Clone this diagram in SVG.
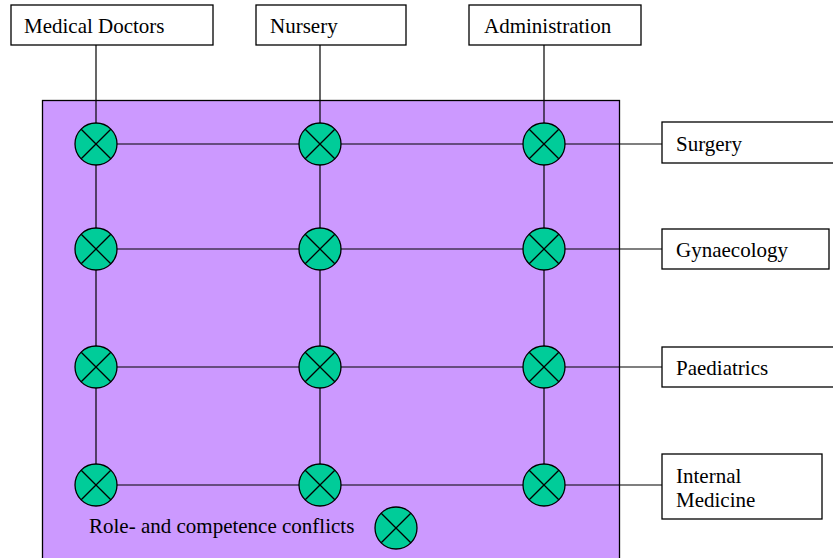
<svg xmlns="http://www.w3.org/2000/svg" width="833" height="558" viewBox="0 0 833 558">
<defs>
<style>
.box{fill:#ffffff;stroke:#000000;stroke-width:1.3}
.lbl{font-family:'Liberation Serif','Times New Roman',serif;font-size:21px;fill:#000000}
.ln{stroke:#000000;stroke-width:1.2;fill:none}
.cf{fill:#00CC99;stroke:#000000;stroke-width:1.3}
.cx{stroke:#000000;stroke-width:1.3}
</style>
<g id="conflict">
<circle class="cf" cx="0" cy="0" r="21"/>
<line class="cx" x1="-14.8" y1="-14.8" x2="14.8" y2="14.8"/>
<line class="cx" x1="-14.8" y1="14.8" x2="14.8" y2="-14.8"/>
</g>
</defs>
<rect id="matrix" x="42.5" y="100.5" width="577" height="470" fill="#CC99FF" stroke="#000000" stroke-width="1.3"/>
<g id="connectors">
<line class="ln" x1="96" y1="45" x2="96" y2="485"/>
<line class="ln" x1="320" y1="45" x2="320" y2="485"/>
<line class="ln" x1="544" y1="45" x2="544" y2="485"/>
<line class="ln" x1="96" y1="144" x2="662" y2="144"/>
<line class="ln" x1="96" y1="249" x2="662" y2="249"/>
<line class="ln" x1="96" y1="367" x2="662" y2="367"/>
<line class="ln" x1="96" y1="485" x2="662" y2="485"/>
</g>
<g id="medical-doctors"><rect class="box" x="11" y="5" width="202" height="40"/><text class="lbl" x="24" y="33">Medical Doctors</text></g>
<g id="nursery"><rect class="box" x="256" y="5" width="150" height="40"/><text class="lbl" x="270" y="33">Nursery</text></g>
<g id="administration"><rect class="box" x="469" y="5" width="172" height="40"/><text class="lbl" x="484" y="33">Administration</text></g>
<g id="surgery"><rect class="box" x="662" y="122" width="180" height="41"/><text class="lbl" x="676" y="151">Surgery</text></g>
<g id="gynaecology"><rect class="box" x="662" y="229" width="167" height="40"/><text class="lbl" x="676" y="257">Gynaecology</text></g>
<g id="paediatrics"><rect class="box" x="662" y="347" width="180" height="40"/><text class="lbl" x="676" y="375">Paediatrics</text></g>
<g id="internal-medicine"><rect class="box" x="662" y="454" width="160" height="65"/><text class="lbl" x="676" y="483">Internal</text><text class="lbl" x="676" y="507">Medicine</text></g>
<g id="conflicts">
<use href="#conflict" x="96" y="144"/><use href="#conflict" x="320" y="144"/><use href="#conflict" x="544" y="144"/>
<use href="#conflict" x="96" y="249"/><use href="#conflict" x="320" y="249"/><use href="#conflict" x="544" y="249"/>
<use href="#conflict" x="96" y="367"/><use href="#conflict" x="320" y="367"/><use href="#conflict" x="544" y="367"/>
<use href="#conflict" x="96" y="485"/><use href="#conflict" x="320" y="485"/><use href="#conflict" x="544" y="485"/>
</g>
<g id="legend">
<text class="lbl" x="89" y="533">Role- and competence conflicts</text>
<use href="#conflict" x="396" y="528"/>
</g>
</svg>
